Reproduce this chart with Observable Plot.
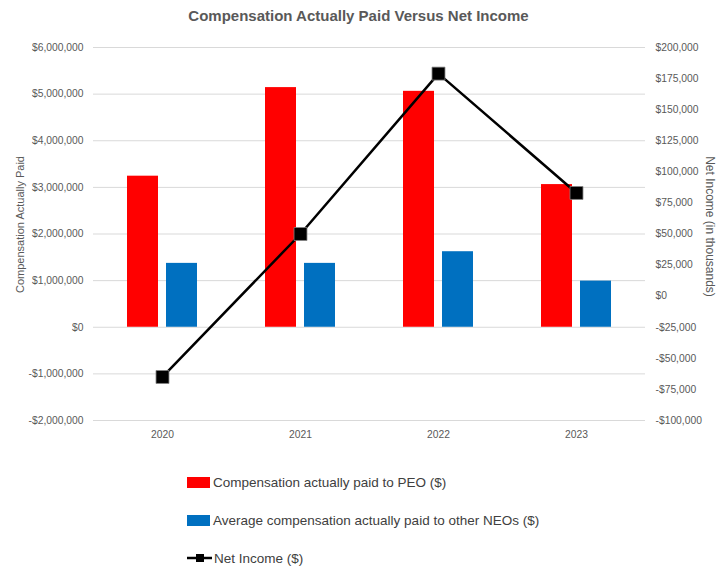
<!DOCTYPE html>
<html><head>
<meta charset="utf-8">
<script src="https://cdn.jsdelivr.net/npm/d3@7"></script>
<script src="https://cdn.jsdelivr.net/npm/@observablehq/plot@0.6"></script>
<style>
body{margin:0;background:#fff;font-family:"Liberation Sans",Arial,sans-serif;width:717px;height:572px;overflow:hidden;}
#title{height:30px;line-height:32px;text-align:center;font-weight:bold;font-size:15px;color:#595959;}
#chart{height:430px;}
#legend{padding-top:3px;padding-left:187px;color:#404040;font-size:13.5px;}
.row{height:38px;display:flex;align-items:center;}
.sw{width:23px;height:11px;margin-right:3px;display:inline-block;}
</style></head><body>
<div id="title">Compensation Actually Paid Versus Net Income</div>
<div id="chart"></div>
<div id="legend"></div>
<script>
const years = ["2020", "2021", "2022", "2023"];
const peoComp = [3240000, 5140000, 5060000, 3060000];
const neoComp = [1370000, 1370000, 1620000, 990000];
const netIncome = [-65000, 50000, 179000, 83000];
const leftTicks = [-2000000, -1000000, 0, 1000000, 2000000, 3000000, 4000000, 5000000, 6000000];
const rightTicks = [-100000, -75000, -50000, -25000, 0, 25000, 50000, 75000, 100000, 125000, 150000, 175000, 200000];
const seriesNames = ["Compensation actually paid to PEO ($)", "Average compensation actually paid to other NEOs ($)", "Net Income ($)"];
const leftLabel = "Compensation Actually Paid";
const rightLabel = "Net Income (in thousands)";

const leftDomain = [d3.min(leftTicks), d3.max(leftTicks)];
const rightDomain = [d3.min(rightTicks), d3.max(rightTicks)];
const k = (leftDomain[1] - leftDomain[0]) / (rightDomain[1] - rightDomain[0]);
const toLeft = v => leftDomain[0] + (v - rightDomain[0]) * k;
const fromLeft = v => Math.round(rightDomain[0] + (v - leftDomain[0]) / k);
const money = v => (v < 0 ? "-" : "") + "$" + d3.format(",")(Math.abs(v));

const red = "#ff0000", blue = "#0070c0";
const rows = years.map((y, i) => ({year: y, peo: peoComp[i], neo: neoComp[i], ni: toLeft(netIncome[i])}));

const plot = Plot.plot({
  width: 717, height: 430,
  marginLeft: 93, marginRight: 72, marginTop: 17, marginBottom: 40,
  style: {fontFamily: "'Liberation Sans', Arial, sans-serif", fontSize: "10.3px", color: "#595959", background: "white"},
  x: {domain: years, padding: 0, axis: null},
  y: {domain: leftDomain, axis: null},
  marks: [
    Plot.ruleY(leftTicks, {stroke: "#d9d9d9", strokeWidth: 1}),
    Plot.barY(rows, {x: "year", y: "peo", fill: red, insetLeft: 34, insetRight: 73}),
    Plot.barY(rows, {x: "year", y: "neo", fill: blue, insetLeft: 73, insetRight: 34}),
    Plot.line(rows, {x: "year", y: "ni", stroke: "black", strokeWidth: 2.5}),
    Plot.dot(rows, {x: "year", y: "ni", symbol: "square", r: 7.3, fill: "black", stroke: "#808080", strokeWidth: 0.8}),
    Plot.axisY(leftTicks, {anchor: "left", tickSize: 0, tickPadding: 10, tickFormat: money, label: null, fill: "#595959"}),
    Plot.axisY(rightTicks.map(toLeft), {anchor: "right", tickSize: 0, tickPadding: 10, tickFormat: d => money(fromLeft(d)), label: null, fill: "#595959"}),
    Plot.axisX(years, {tickSize: 0, tickPadding: 10, label: null, fill: "#595959"}),
    Plot.text([leftLabel], {frameAnchor: "left", textAnchor: "middle", dx: -73, dy: -9.5, rotate: -90, fill: "#595959", fontSize: 11}),
    Plot.text([rightLabel], {frameAnchor: "right", textAnchor: "middle", dx: 64, dy: -7.5, rotate: 90, fill: "#595959", fontSize: 12})
  ]
});
document.getElementById("chart").appendChild(plot);

const legend = document.getElementById("legend");
seriesNames.forEach((name, i) => {
  const row = document.createElement("div");
  row.className = "row";
  if (i < 2) {
    const sw = document.createElement("span");
    sw.className = "sw";
    sw.style.background = i === 0 ? red : blue;
    row.appendChild(sw);
  } else {
    const ns = "http://www.w3.org/2000/svg";
    const svg = document.createElementNS(ns, "svg");
    svg.setAttribute("width", 26); svg.setAttribute("height", 12);
    svg.style.marginRight = "1px";
    const ln = document.createElementNS(ns, "line");
    ln.setAttribute("x1", 0); ln.setAttribute("x2", 25); ln.setAttribute("y1", 6); ln.setAttribute("y2", 6);
    ln.setAttribute("stroke", "black"); ln.setAttribute("stroke-width", 2.5);
    const sq = document.createElementNS(ns, "rect");
    sq.setAttribute("x", 9); sq.setAttribute("y", 2); sq.setAttribute("width", 8); sq.setAttribute("height", 8);
    sq.setAttribute("fill", "black");
    svg.appendChild(ln); svg.appendChild(sq);
    row.appendChild(svg);
  }
  const t = document.createElement("span");
  t.textContent = name;
  row.appendChild(t);
  legend.appendChild(row);
});
</script>
</body></html>
